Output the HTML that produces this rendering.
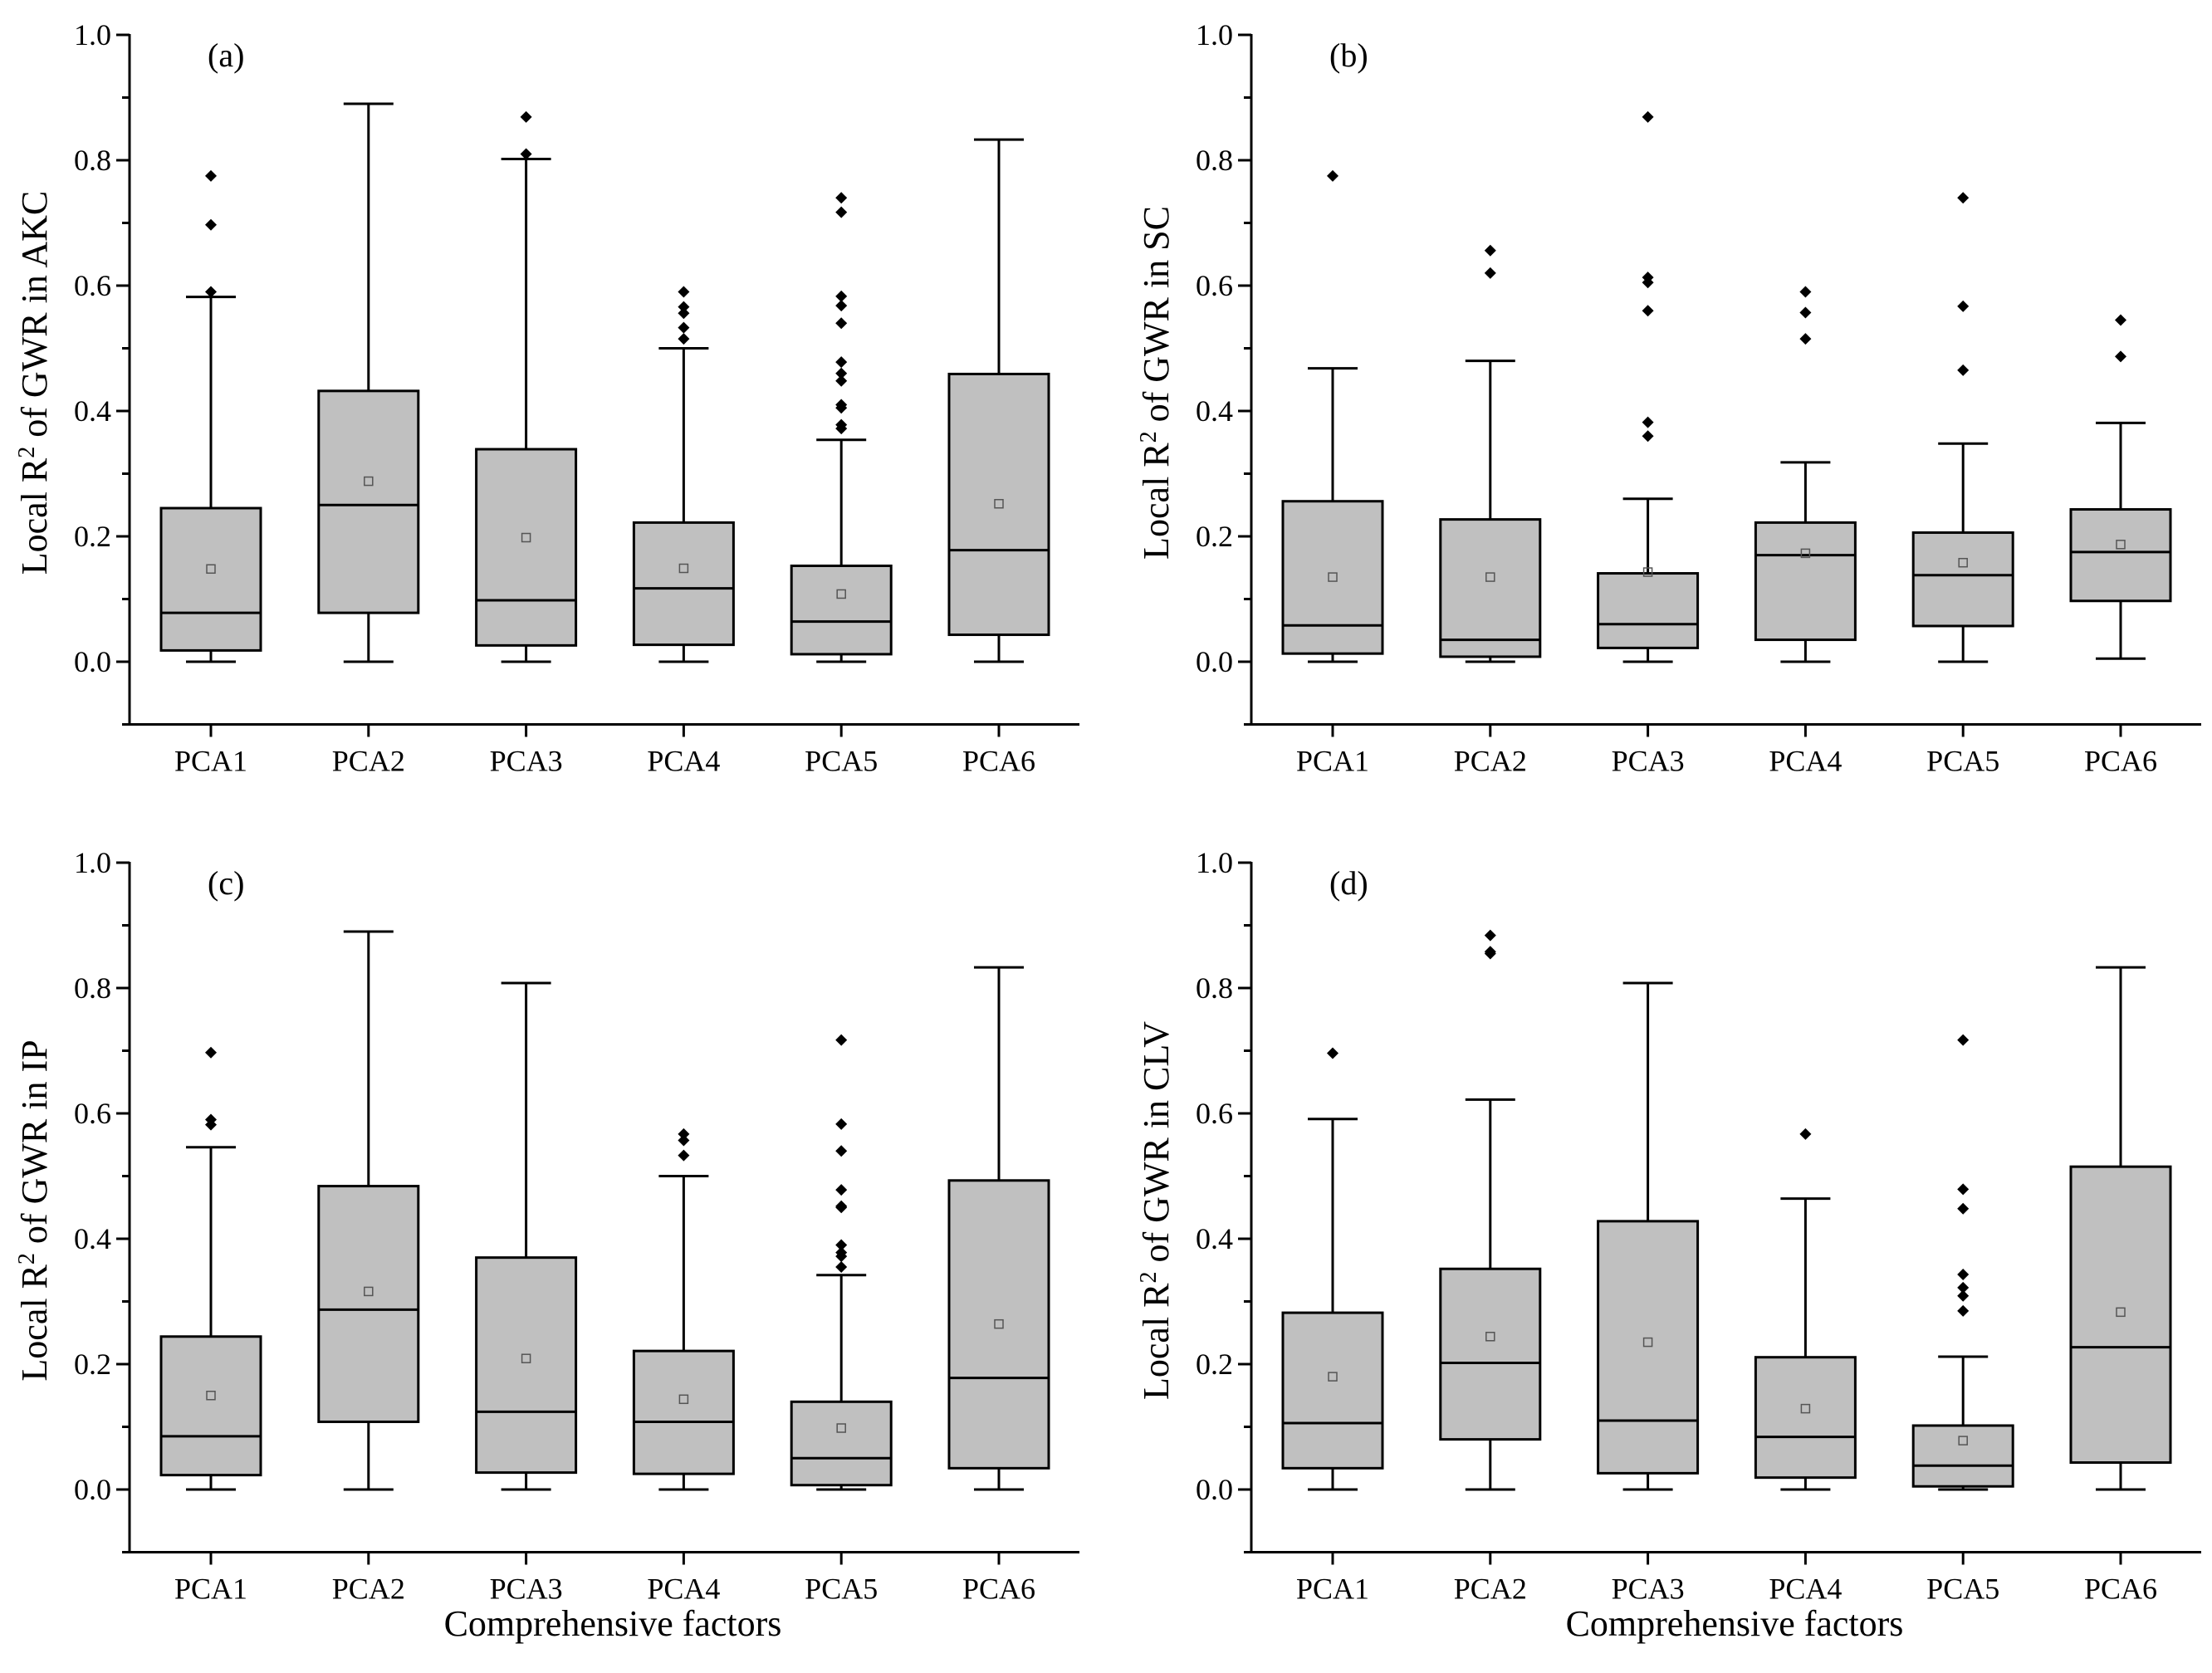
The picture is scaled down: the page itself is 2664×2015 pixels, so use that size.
<!DOCTYPE html>
<html><head><meta charset="utf-8"><style>
html,body{margin:0;padding:0;background:#fff;}
svg{display:block;}
text{font-family:"Liberation Serif",serif;fill:#000;}
</style></head>
<body>
<svg id="chart" width="2664" height="2015" viewBox="0 0 2664 2015" xmlns="http://www.w3.org/2000/svg"></svg>
<script>
const categories = ["PCA1","PCA2","PCA3","PCA4","PCA5","PCA6"];
const panelLabels = ["(a)","(b)","(c)","(d)"];
const yTitles = ["AKC","SC","IP","CLV"];
const yTickLabels = ["0.0","0.2","0.4","0.6","0.8","1.0"];
const yTickValues = [0,0.2,0.4,0.6,0.8,1.0];
const yMinorValues = [-0.1,0.1,0.3,0.5,0.7,0.9];
// per panel: [whiskerLow, q1, median, q3, whiskerHigh, mean]
const statsA = [[0,0.018,0.078,0.245,0.582,0.148],[0,0.078,0.25,0.432,0.89,0.288],[0,0.026,0.098,0.339,0.802,0.198],[0,0.027,0.117,0.222,0.5,0.149],[0,0.012,0.064,0.153,0.354,0.108],[0,0.043,0.178,0.459,0.833,0.252]];
const statsB = [[0,0.013,0.058,0.256,0.468,0.135],[0,0.008,0.035,0.227,0.48,0.135],[0,0.022,0.06,0.141,0.26,0.143],[0,0.035,0.17,0.222,0.318,0.173],[0,0.057,0.138,0.206,0.348,0.158],[0.005,0.097,0.175,0.243,0.381,0.187]];
const statsC = [[0,0.023,0.085,0.244,0.546,0.15],[0,0.108,0.287,0.484,0.89,0.316],[0,0.027,0.124,0.37,0.808,0.209],[0,0.025,0.108,0.221,0.5,0.144],[0,0.007,0.05,0.14,0.342,0.098],[0,0.034,0.178,0.493,0.833,0.264]];
const statsD = [[0,0.034,0.106,0.282,0.591,0.18],[0,0.08,0.202,0.352,0.622,0.244],[0,0.026,0.11,0.428,0.808,0.235],[0,0.019,0.084,0.211,0.464,0.129],[0,0.005,0.038,0.102,0.212,0.078],[0,0.043,0.227,0.515,0.833,0.283]];
const outA = [[0.59,0.697,0.775],[],[0.81,0.869],[0.515,0.533,0.556,0.566,0.59],[0.372,0.378,0.405,0.41,0.448,0.46,0.478,0.54,0.568,0.583,0.717,0.74],[]];
const outB = [[0.775],[0.62,0.656],[0.36,0.382,0.56,0.605,0.613,0.869],[0.515,0.557,0.59],[0.465,0.567,0.74],[0.487,0.545]];
const outC = [[0.582,0.59,0.697],[],[],[0.533,0.557,0.567],[0.355,0.372,0.378,0.39,0.45,0.452,0.478,0.54,0.583,0.717],[]];
const outD = [[0.696],[0.855,0.858,0.884],[],[0.567],[0.285,0.309,0.322,0.343,0.448,0.479,0.717],[]];
const allStats = [statsA,statsB,statsC,statsD];
const allOut = [outA,outB,outC,outD];

const NS = "http://www.w3.org/2000/svg";
const svg = document.getElementById("chart");
function mk(tag, attrs, parent){const e=document.createElementNS(NS,tag);for(const k in attrs)e.setAttribute(k,attrs[k]);(parent||svg).appendChild(e);return e;}

const offsets = [[0,0],[1351,0],[0,997],[1351,997]];
for(let p=0;p<4;p++){
  const ox=offsets[p][0], oy=offsets[p][1];
  const g = mk("g",{});
  
  
  const axX = 156+ox, y0 = 797+oy, unit = 755;
  const yS = v => y0 - v*unit;
  const xS = i => 254 + ox + i*189.8;
  const xEnd = 1300+ox;
  const ya = mk("line",{x1:axX,y1:yS(1.0)-1,x2:axX,y2:yS(-0.1),stroke:"#000","stroke-width":3},g);
  
  
  const xa = mk("line",{x1:axX-1,y1:yS(-0.1),x2:xEnd,y2:yS(-0.1),stroke:"#000","stroke-width":3},g);
  
  
  yTickValues.forEach((v,i)=>{
    mk("line",{x1:axX-16,y1:yS(v),x2:axX,y2:yS(v),stroke:"#000","stroke-width":3},g);
    const t = mk("text",{x:axX-22,y:yS(v)+12,"text-anchor":"end","font-size":36},g);
    t.textContent = yTickLabels[i];
    
    
  });
  yMinorValues.forEach(v=>{ mk("line",{x1:axX-9,y1:yS(v),x2:axX,y2:yS(v),stroke:"#000","stroke-width":3},g); });
  categories.forEach((c,i)=>{
    mk("line",{x1:xS(i),y1:yS(-0.1),x2:xS(i),y2:yS(-0.1)+15,stroke:"#000","stroke-width":3},g);
    const t = mk("text",{x:xS(i),y:yS(-0.1)+56,"text-anchor":"middle","font-size":36},g);
    t.textContent = c;
    
    
  });
  const pl = mk("text",{x:250+ox,y:80+oy,"font-size":40},g);
  pl.textContent = panelLabels[p];
  
  
  const cy = 461+oy, cx = 56+ox;
  const yt = mk("text",{x:cx,y:cy,"text-anchor":"middle","font-size":44,transform:`rotate(-90 ${cx} ${cy})`},g);
  yt.innerHTML = 'Local R<tspan dy="-15" font-size="28">2</tspan><tspan dy="15"> of GWR in '+yTitles[p]+'</tspan>';
  
  
  if(p>=2){
    const xt = mk("text",{x:(axX+xEnd)/2+10,y:1970,"text-anchor":"middle","font-size":44},g);
    xt.textContent = "Comprehensive factors";
    
    
  }
  allStats[p].forEach((s,i)=>{
    const cxp = xS(i);
    const bg = mk("g",{},g);
    
    
    mk("line",{x1:cxp,y1:yS(s[4]),x2:cxp,y2:yS(s[3]),stroke:"#000","stroke-width":3},bg);
    mk("line",{x1:cxp,y1:yS(s[1]),x2:cxp,y2:yS(s[0]),stroke:"#000","stroke-width":3},bg);
    mk("line",{x1:cxp-30,y1:yS(s[4]),x2:cxp+30,y2:yS(s[4]),stroke:"#000","stroke-width":3},bg);
    mk("line",{x1:cxp-30,y1:yS(s[0]),x2:cxp+30,y2:yS(s[0]),stroke:"#000","stroke-width":3},bg);
    mk("rect",{x:cxp-60,y:yS(s[3]),width:120,height:yS(s[1])-yS(s[3]),fill:"#c0c0c0",stroke:"#000","stroke-width":3},bg);
    mk("line",{x1:cxp-60,y1:yS(s[2]),x2:cxp+60,y2:yS(s[2]),stroke:"#000","stroke-width":3},bg);
    mk("rect",{x:cxp-5,y:yS(s[5])-5,width:10,height:10,fill:"none",stroke:"#555","stroke-width":1.5},bg);
    allOut[p][i].forEach(v=>{
      const y=yS(v);
      const d = mk("polygon",{points:`${cxp},${y-7} ${cxp+7},${y} ${cxp},${y+7} ${cxp-7},${y}`,fill:"#000"},bg);
      
      
    });
  });
}
</script>
</body></html>
